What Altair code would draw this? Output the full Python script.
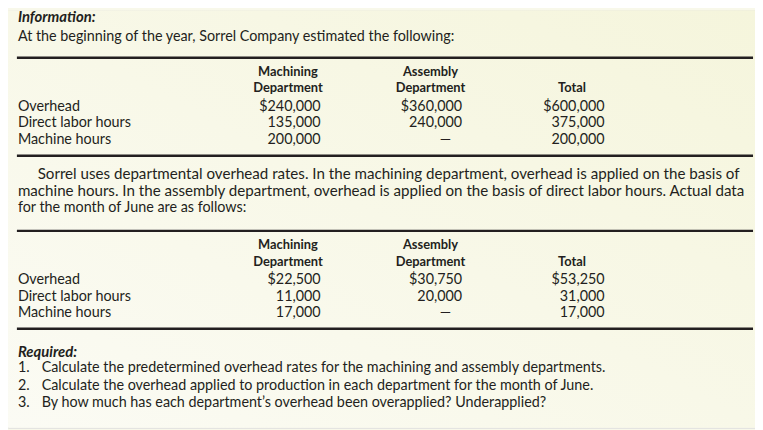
import altair as alt
import pandas as pd

# ---------------- text content ----------------
intro_title = "Information:"
intro_text = "At the beginning of the year, Sorrel Company estimated the following:"
row_labels = ["Overhead", "Direct labor hours", "Machine hours"]
header_top = ["Machining", "Assembly", ""]
header_bottom = ["Department", "Department", "Total"]
est_machining = ["$240,000", "135,000", "200,000"]
est_assembly = ["$360,000", "240,000", "—"]
est_total = ["$600,000", "375,000", "200,000"]
paragraph = [
    "Sorrel uses departmental overhead rates. In the machining department, overhead is applied on the basis of",
    "machine hours. In the assembly department, overhead is applied on the basis of direct labor hours. Actual data",
    "for the month of June are as follows:",
]
act_machining = ["$22,500", "11,000", "17,000"]
act_assembly = ["$30,750", "20,000", "—"]
act_total = ["$53,250", "31,000", "17,000"]
required_title = "Required:"
required_nums = ["1.", "2.", "3."]
required_items = [
    "Calculate the predetermined overhead rates for the machining and assembly departments.",
    "Calculate the overhead applied to production in each department for the month of June.",
    "By how much has each department’s overhead been overapplied? Underapplied?",
]

# ---------------- layout (page pixel coordinates) ----------------
LEFT = 18
COL_CENTER = [291, 435, 578]
COL_RIGHT = [324, 467, 611]
DASH_X = 450

recs = []


def add(kind, x, y, text):
    recs.append({"kind": kind, "x": x, "y": y, "text": text})


add("title", LEFT, 15, intro_title)
add("body", LEFT, 35, intro_text)

rules = []


def table(top, cols):
    rules.append({"x": 17, "x2": 761, "y": top})
    for i in range(3):
        if header_top[i]:
            add("head", COL_CENTER[i], top + 14, header_top[i])
        add("head", COL_CENTER[i], top + 31, header_bottom[i])
    for r, lab in enumerate(row_labels):
        y = top + 50 + 16.5 * r
        add("body", LEFT, y, lab)
        for c in range(3):
            v = cols[c][r]
            if v == "—":
                add("dash", DASH_X, y, v)
            else:
                add("num", COL_RIGHT[c], y, v)
    rules.append({"x": 17, "x2": 761, "y": top + 99})


table(56, [est_machining, est_assembly, est_total])

for i, line in enumerate(paragraph):
    kind = "para" if i < 2 else "body"
    add(kind, 38 if i == 0 else LEFT, 174 + 17 * i, line)

table(231, [act_machining, act_assembly, act_total])

add("title", LEFT, 353, required_title)
for i in range(3):
    add("body", LEFT, 370 + 17.5 * i, required_nums[i])
    add("body", 42, 370 + 17.5 * i, required_items[i])

df = pd.DataFrame(recs)
rules_df = pd.DataFrame(rules)

W, H = 755, 422
xs = alt.Scale(domain=[8, 763], range=[0, W], nice=False, zero=False)
ys = alt.Scale(domain=[8, 430], range=[0, H], nice=False, zero=False)
FONT = "Lato"
INK = "#231f20"

base = alt.Chart(df).encode(
    x=alt.X("x:Q", scale=xs, axis=None),
    y=alt.Y("y:Q", scale=ys, axis=None),
    text="text:N",
)

bg = alt.Chart(pd.DataFrame({"a": [0]})).mark_rect(
    fill=alt.LinearGradient(
        gradient="linear",
        x1=0, y1=1, x2=1, y2=0,
        stops=[alt.GradientStop(color="#fbfbf4", offset=0),
               alt.GradientStop(color="#f5f5dc", offset=1)],
    )
).encode(x=alt.value(0), x2=alt.value(W), y=alt.value(0), y2=alt.value(H))

rule_layer = alt.Chart(rules_df).mark_rule(color=INK, strokeWidth=2.5).encode(
    x=alt.X("x:Q", scale=xs, axis=None),
    x2="x2:Q",
    y=alt.Y("y:Q", scale=ys, axis=None),
)

body = base.transform_filter("datum.kind == 'body'").mark_text(
    align="left", baseline="middle", font=FONT, fontSize=14.5, color=INK)
para = base.transform_filter("datum.kind == 'para'").mark_text(
    align="left", baseline="middle", font=FONT, fontSize=15.3, color=INK)
title = base.transform_filter("datum.kind == 'title'").mark_text(
    align="left", baseline="middle", font=FONT, fontSize=15, color=INK,
    fontWeight="bold", fontStyle="italic")
head = base.transform_filter("datum.kind == 'head'").mark_text(
    align="center", baseline="middle", font=FONT, fontSize=13, color=INK,
    fontWeight="bold")
num = base.transform_filter("datum.kind == 'num'").mark_text(
    align="right", baseline="middle", font=FONT, fontSize=14.5, color=INK)
dash = base.transform_filter("datum.kind == 'dash'").mark_text(
    align="center", baseline="middle", font=FONT, fontSize=14.5, color=INK)

chart = alt.layer(bg, rule_layer, body, para, title, head, num, dash).properties(
    width=W, height=H, padding=0,
).configure_view(stroke=None).configure(background="#f8f8ea")

chart.save("out.html", embed_options={"renderer": "svg", "actions": False})
